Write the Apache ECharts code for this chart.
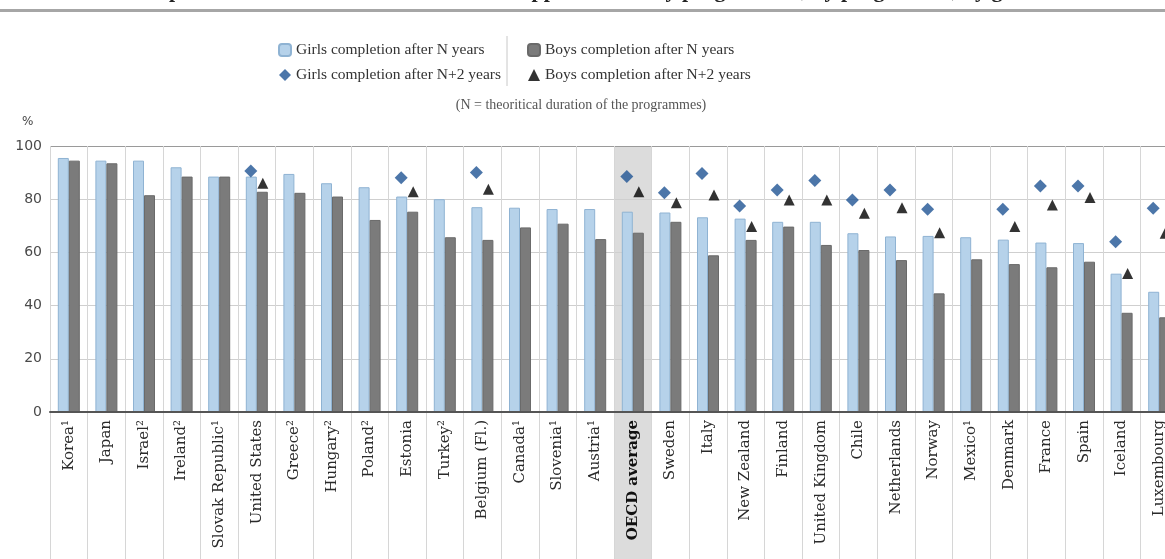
<!DOCTYPE html>
<html>
<head>
<meta charset="utf-8">
<script src="https://cdn.jsdelivr.net/npm/echarts@6/dist/echarts.min.js"></script>
<style>
html,body{margin:0;padding:0;overflow:hidden;background:#fff;width:1165px;height:559px;}
#c{width:1180px;height:559px;}
</style>
</head>
<body>
<div id="c"></div>
<script>
const categories = ['Korea¹','Japan','Israel²','Ireland²','Slovak Republic¹','United States','Greece²','Hungary²','Poland²','Estonia','Turkey²','Belgium (Fl.)','Canada¹','Slovenia¹','Austria¹','OECD average','Sweden','Italy','New Zealand','Finland','United Kingdom','Chile','Netherlands','Norway','Mexico¹','Denmark','France','Spain','Iceland','Luxembourg'];
const girlsN = [95.5,94.5,94.5,92,88.5,88.5,89.5,86,84.5,81,80,77,76.8,76.3,76.3,75.3,75,73.2,72.7,71.5,71.5,67.2,66,66.2,65.7,64.8,63.7,63.5,52,45.2];
const boysN = [94.5,93.5,81.5,88.5,88.5,82.8,82.4,81,72.2,75.3,65.7,64.7,69.4,70.8,65,67.4,71.5,58.9,64.7,69.7,62.8,60.9,57.1,44.6,57.4,55.6,54.4,56.5,37.3,35.6];
const girlsN2 = [null,null,null,null,null,90.6,null,null,null,88.1,null,90,null,null,null,88.5,82.4,89.7,77.4,83.5,87,79.7,83.5,76.2,null,76.2,85,85,64,76.6];
const boysN2 = [null,null,null,null,null,86,null,null,null,82.8,null,83.7,null,null,null,82.8,78.7,81.6,69.7,79.7,79.7,74.7,76.8,67.4,null,69.7,77.8,80.6,52.1,67.2];
const yTicks = [0,20,40,60,80,100];
const highlight = 'OECD average';

const chart = echarts.init(document.getElementById('c'));
const serif = '"DejaVu Serif","Liberation Serif",serif';
const yMax = yTicks[yTicks.length-1];
const bgTop = categories.map(c => c === highlight ? yMax : null);
const bgLow = categories.map(c => c === highlight ? 1 : null);

chart.setOption({
  animation: false,
  title: [
    {text: 'Completion rates of students who entered upper secondary programmes, by programme, by gender', left: 'center', top: -25,
     textStyle: {fontFamily: '"Liberation Serif",serif', fontSize: 22, fontWeight: 'bold', color: '#222'}},
    {text: '(N = theoritical duration of the programmes)', left: 576, textAlign: 'center', top: 93,
     textStyle: {fontFamily: '"Liberation Serif",serif', fontSize: 14, fontWeight: 'normal', color: '#555'}}
  ],
  graphic: [
    {type: 'rect', left: 0, top: 9, shape: {width: 1180, height: 3}, style: {fill: '#a6a6a6'}},
    {type: 'line', shape: {x1: 507, y1: 36, x2: 507, y2: 86}, style: {stroke: '#c8c8c8', lineWidth: 1}},
    {type: 'text', left: 22, top: 116, style: {text: '%', font: '12px "DejaVu Sans"', fill: '#444'}}
  ],
  legend: [
    {orient: 'vertical', left: 273, top: 37, itemGap: 9, itemWidth: 12, itemHeight: 12,
     data: ['Girls completion after N years','Girls completion after N+2 years'],
     textStyle: {fontFamily: '"Liberation Serif",serif', fontSize: 15.5, color: '#333'}},
    {orient: 'vertical', left: 522, top: 37, itemGap: 9, itemWidth: 12, itemHeight: 12,
     data: ['Boys completion after N years','Boys completion after N+2 years'],
     textStyle: {fontFamily: '"Liberation Serif",serif', fontSize: 15.5, color: '#333'}}
  ],
  grid: [
    {left: 50, right: 2, top: 146, bottom: 147, outerBoundsMode: 'none', containLabel: false},
    {left: 50, right: 2, top: 412, bottom: 0, outerBoundsMode: 'none', containLabel: false}
  ],
  xAxis: [
    {type: 'category', gridIndex: 0, data: categories, boundaryGap: true, z: 3,
     axisLine: {lineStyle: {color: '#555', width: 2}},
     axisTick: {show: false},
     splitLine: {show: true, interval: 0, lineStyle: {color: '#d6d6d6', width: 1}},
     axisLabel: {interval: 0, rotate: 90, margin: 8, fontFamily: serif, fontSize: 15, color: '#2a2a2a',
       formatter: v => v === highlight ? '{b|' + v + '}' : v,
       rich: {b: {fontFamily: serif, fontSize: 15, fontWeight: 'bold', color: '#111'}}}},
    {type: 'category', gridIndex: 0, data: categories, show: false, boundaryGap: true},
    {type: 'category', gridIndex: 1, data: categories, boundaryGap: true,
     axisLine: {show: false}, axisTick: {show: false}, axisLabel: {show: false},
     splitLine: {show: true, interval: 0, lineStyle: {color: '#d6d6d6', width: 1}}}
  ],
  yAxis: [
    {type: 'value', gridIndex: 0, min: 0, max: yMax, interval: 20,
     axisLine: {show: false}, axisTick: {show: false},
     axisLabel: {margin: 8, fontFamily: '"DejaVu Sans"', fontSize: 14, color: '#4a4a4a'},
     splitLine: {show: true, lineStyle: {color: ['#cfcfcf','#cfcfcf','#cfcfcf','#cfcfcf','#cfcfcf','#9a9a9a'], width: 1}}},
    {type: 'value', gridIndex: 1, min: 0, max: 1, show: false, splitLine: {show: false}}
  ],
  series: [
    {type: 'bar', xAxisIndex: 1, yAxisIndex: 0, data: bgTop, barWidth: '100%', z: -1, silent: true,
     itemStyle: {color: '#dcdcdc'}},
    {type: 'bar', xAxisIndex: 2, yAxisIndex: 1, data: bgLow, barWidth: '100%', z: -1, silent: true,
     itemStyle: {color: '#dcdcdc'}},
    {name: 'Girls completion after N years', type: 'bar', xAxisIndex: 0, yAxisIndex: 0, data: girlsN, barWidth: 11, barGap: '0%',
     itemStyle: {color: '#b6d2ea', borderColor: '#8fb3d3', borderWidth: 1}},
    {name: 'Boys completion after N years', type: 'bar', xAxisIndex: 0, yAxisIndex: 0, data: boysN, barWidth: 11, barGap: '0%',
     itemStyle: {color: '#7b7b7b', borderColor: '#6a6a6a', borderWidth: 1}},
    {name: 'Girls completion after N+2 years', type: 'scatter', xAxisIndex: 0, yAxisIndex: 0, data: girlsN2, symbol: 'diamond', symbolSize: 13,
     symbolOffset: [-6, 0], itemStyle: {color: '#1f5494'}, z: 5},
    {name: 'Boys completion after N+2 years', type: 'scatter', xAxisIndex: 0, yAxisIndex: 0, data: boysN2, symbol: 'triangle', symbolSize: 11,
     symbolOffset: [6, 0], itemStyle: {color: '#000'}, z: 5}
  ]
});
</script>
</body>
</html>
